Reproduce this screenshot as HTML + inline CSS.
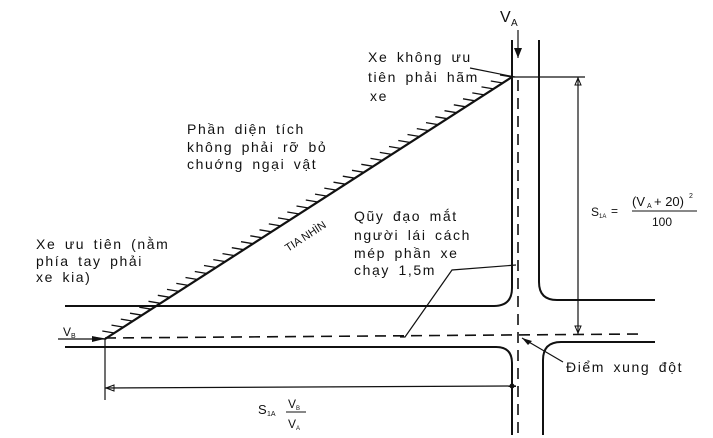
<!DOCTYPE html>
<html><head><meta charset="utf-8"><style>
html,body{margin:0;padding:0;background:#fff;}
svg{display:block}
text{font-family:"Liberation Sans",sans-serif;fill:#111;}
.t{font-size:14px;letter-spacing:1.6px;word-spacing:3px;}
</style></head><body>
<svg id="s" width="713" height="438" viewBox="0 0 713 438" xmlns="http://www.w3.org/2000/svg">
<g stroke="#111" fill="none" stroke-width="2">
<path d="M512 40 V288 Q512 306 494 306 H65"/>
<path d="M539 40 V282 Q539 300 557 300 H655"/>
<path d="M65 347 H496 Q512 347 512 363 V435"/>
<path d="M543 435 V360 Q543 342 561 342 H655"/>
</g>
<g stroke="#111" fill="none" stroke-width="1.6" stroke-dasharray="11,7">
<line x1="518" y1="80" x2="518" y2="438"/>
<line x1="105" y1="338" x2="640" y2="334"/>
</g>
<g stroke="#111" fill="none" stroke-width="1.2">
<line x1="518" y1="30" x2="518" y2="58"/>
<line x1="105" y1="339" x2="512" y2="77" stroke-width="2.2"/>
<line x1="58" y1="339" x2="105" y2="339"/>
<line x1="512" y1="77" x2="585" y2="77"/>
<line x1="578" y1="77" x2="578" y2="334"/>
<line x1="105" y1="339" x2="105" y2="400"/>
<line x1="105" y1="388" x2="516" y2="386"/>
<polyline points="470,68 515,77"/>
<polyline points="400,337 405,337 452,270 516,265"/>
<line x1="522" y1="338" x2="563" y2="362"/>
</g>
<polygon points="514,48 522,48 518,58" fill="#111"/>
<polygon points="575,85 581,85 578,78" fill="none" stroke="#111"/>
<polygon points="575,326 581,326 578,333" fill="none" stroke="#111"/>
<polygon points="106,388 114,385 114,391" fill="none" stroke="#111"/>
<polygon points="522,338 532,341 528,345" fill="#111"/>
<polygon points="92,336 104,339 92,342" fill="#111"/>
<circle cx="512" cy="386" r="2.5" fill="#111"/>
<g id="h" stroke="#111" stroke-width="1.3"></g>
<text x="500" y="22" font-size="16">V</text><text x="511" y="26" font-size="10">A</text>
<g class="t">
<text x="368" y="62">Xe không ưu</text>
<text x="368" y="82">tiên phải hãm</text>
<text x="370" y="101">xe</text>
<text x="187" y="134">Phần diện tích</text>
<text x="187" y="152">không phải rỡ bỏ</text>
<text x="187" y="169">chuớng ngại vật</text>
<text x="354" y="221">Qũy đạo mắt</text>
<text x="354" y="240">người lái cách</text>
<text x="354" y="258">mép phần xe</text>
<text x="354" y="275">chạy 1,5m</text>
<text x="36" y="249">Xe ưu tiên (nằm</text>
<text x="36" y="266">phía tay phải</text>
<text x="36" y="282">xe kia)</text>
<text x="566" y="372">Điểm xung đột</text>
</g>
<text x="288" y="252" font-size="11" transform="rotate(-33 288 252)">TIA NHÌN</text>
<text x="63" y="336" font-size="12">V</text><text x="71" y="338" font-size="7">B</text>
<text x="591" y="216" font-size="12">S</text><text x="599" y="218" font-size="6">1A</text>
<text x="611" y="215" font-size="12">=</text>
<text x="632" y="206" font-size="13">(V</text><text x="647" y="208" font-size="7">A</text><text x="654" y="206" font-size="13">+ 20)</text><text x="689" y="198" font-size="7">2</text>
<line x1="632" y1="211" x2="697" y2="211" stroke="#111" stroke-width="1"/>
<text x="652" y="226" font-size="12">100</text>
<text x="258" y="414" font-size="13">S</text><text x="267" y="416" font-size="7">1A</text>
<text x="288" y="408" font-size="12">V</text><text x="296" y="410" font-size="6">B</text>
<line x1="286" y1="412" x2="306" y2="412" stroke="#111" stroke-width="1"/>
<text x="288" y="428" font-size="12">V</text><text x="296" y="430" font-size="6">A</text>
</svg>
<script>
var g=document.getElementById('h'),x0=105,y0=339,x1=512,y1=77,n=44,s='';
for(var i=0;i<=n;i++){var t=i/n,x=x0+(x1-x0)*t,y=y0+(y1-y0)*t;
s+='<line x1="'+x.toFixed(1)+'" y1="'+y.toFixed(1)+'" x2="'+(x-12).toFixed(1)+'" y2="'+(y-2).toFixed(1)+'"/>';}
g.innerHTML=s;
</script>
</body></html>
